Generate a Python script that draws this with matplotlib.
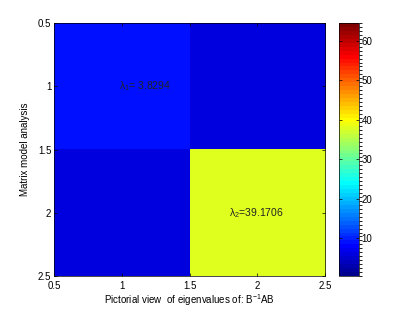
import numpy as np
import matplotlib
matplotlib.use("Agg")
import matplotlib.pyplot as plt
from matplotlib.colors import ListedColormap, BoundaryNorm

plt.rcParams['font.family'] = ['Liberation Sans', 'DejaVu Sans']
plt.rcParams['mathtext.fontset'] = 'custom'
plt.rcParams['mathtext.rm'] = 'Liberation Sans'
plt.rcParams['mathtext.it'] = 'Liberation Sans'

matrix = [[9.0, 6.0],
          [6.0, 38.0]]
eig_labels = ['λ$_1$= 3.8294', 'λ$_2$=39.1706']
eig_positions = [(0.98, 1.0), (1.79, 2.0)]
xticks = [0.5, 1, 1.5, 2, 2.5]
yticks = [0.5, 1, 1.5, 2, 2.5]
cbar_ticks = [10, 20, 30, 40, 50, 60]

# MATLAB-like jet with 64 levels
def matlab_jet(m=64):
    n1 = int(np.ceil(m / 4))
    u = np.concatenate([np.arange(1, n1 + 1) / n1, np.ones(n1 - 1), np.arange(n1, 0, -1) / n1])
    g = int(np.ceil(n1 / 2)) - (1 if (m % 4) == 1 else 0) + np.arange(len(u))
    r = g + n1
    b = g - n1
    g = g[g < m]; r = r[r < m]; b = b[b >= 0]
    J = np.zeros((m, 3))
    J[r, 0] = u[:len(r)]
    J[g, 1] = u[:len(g)]
    J[b, 2] = u[-len(b):]
    return J

cmap = ListedColormap(matlab_jet(64))
norm = BoundaryNorm(np.arange(0.5, 65.5, 1.0), 64)

fig = plt.figure(figsize=(4.15, 3.13), dpi=100)
ax = fig.add_axes([54/415, 1 - 276/313, 271/415, 253/313])
cax = fig.add_axes([339/415, 1 - 276/313, 20/415, 253/313])

im = ax.imshow(np.array(matrix), cmap=cmap, norm=norm, extent=[0.5, 2.5, 2.5, 0.5],
               aspect='auto', interpolation='nearest')
ax.set_xlim(0.5, 2.5)
ax.set_ylim(2.5, 0.5)
ax.set_xticks(xticks)
ax.set_yticks(yticks)
ax.set_xticklabels([f'{t:g}' for t in xticks])
ax.set_yticklabels([f'{t:g}' for t in yticks])
ax.tick_params(direction='in', length=2.5, width=0.5, labelsize=7, pad=2,
               top=True, right=True)
ax.tick_params(axis='x', pad=3.5)
for s in ax.spines.values():
    s.set_linewidth(0.5)

for (x, y), lab in zip(eig_positions, eig_labels):
    ax.text(x, y, lab, ha='left', va='center', fontsize=7.5, color='#222222')

ax.set_xlabel('Pictorial view  of eigenvalues of: B$^{-1}$AB', fontsize=7, labelpad=1)
ax.set_ylabel('Matrix model analysis', fontsize=7, labelpad=6)

cb = fig.colorbar(im, cax=cax, ticks=cbar_ticks)
cb.outline.set_linewidth(0.5)
cax.tick_params(direction='in', length=2.5, width=0.5, labelsize=7, pad=2,
                left=True, right=True)
cax.set_yticklabels([str(t) for t in cbar_ticks])

fig.savefig('out.png', dpi=100)
